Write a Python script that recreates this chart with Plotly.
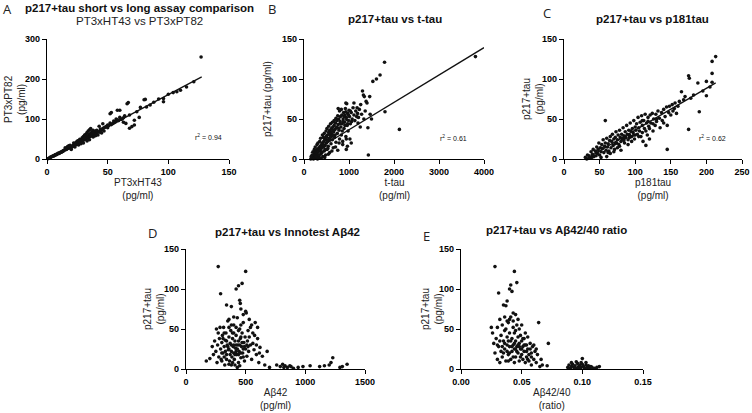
import plotly.graph_objects as go

# ---------------- data ----------------
# Panel A: PT3xHT43 (x) vs PT3xPT82 (y), pg/ml
a_pts = [
    (1,1),(2,3),(3,4),(4,6),(5,7),(6,9),(7,10),(8,12),(9,13),(10,15),
    (11,17),(12,18),(13,20),(14,22),(15,23),(16,25),(17,26),(18,28),(19,30),(20,31),
    (21,33),(22,34),(23,36),(24,37),(25,39),(6,8),(8,11),(10,14),(12,17),(14,21),
    (16,24),(18,27),(20,29),(22,32),(24,36),(26,40),(27,42),(28,44),(29,45),(30,47),
    (31,49),(32,50),(33,52),(34,53),(35,55),(36,57),(37,58),(38,60),(39,61),(40,63),
    (15,28),(18,33),(20,24),(22,40),(25,45),(26,35),(27,49),(28,38),(29,53),(30,56),
    (30,40),(31,60),(32,62),(33,45),(33,66),(34,70),(35,73),(35,48),(36,64),(36,76),
    (37,68),(38,55),(38,72),(39,58),(40,70),(41,66),(42,60),(43,82),(44,72),(45,65),
    (46,88),(46,76),(47,70),(48,80),(50,78),(50,85),(52,90),(52,113),(53,116),(54,88),
    (55,95),(56,92),(57,100),(58,122),(58,98),(60,122),(60,104),(62,100),(63,92),(64,108),
    (65,89),(66,138),(67,141),(68,77),(68,110),(70,81),(72,97),(72,85),(74,118),(76,104),
    (77,129),(80,148),(81,149),(82,130),(85,135),(88,142),(92,150),(96,151),(96,143),(100,162),
    (104,166),(107,168),(110,172),(115,180),(121,193),(127,255),(3,5),(5,8),(7,11),(9,14),
    (11,16),(13,19),(17,27),(19,29),(21,31),(23,35),(25,37),(27,40),(28,47),(30,50),
    (32,55),(34,58),(35,62),(37,63),(39,66),(40,58),(42,68),(44,75),(47,78),(49,82),
    (51,84),(53,86),(55,90),(57,94),(59,96),(61,99),(63,103),(45,72),(43,67),(41,72),
    (24,42),(26,46),(31,52),(33,57),(36,60),(38,65),(19,34),(17,31),(23,30),(29,42),
]
# Panel B: t-tau (x) vs p217+tau (y)
b_pts = [
    (150,0),(170,2),(190,1),(200,4),(210,0),(220,6),(230,3),(240,8),(250,2),(260,5),
    (270,10),(280,1),(290,7),(300,12),(310,4),(320,9),(330,14),(340,2),(350,11),(360,16),
    (370,6),(380,13),(390,18),(400,8),(410,20),(420,3),(430,15),(440,22),(450,10),(460,25),
    (470,17),(480,5),(490,28),(500,20),(510,12),(520,30),(530,23),(540,16),(550,33),(560,26),
    (570,8),(580,35),(590,29),(600,19),(610,38),(620,31),(630,24),(640,40),(650,14),(660,34),
    (670,42),(680,27),(690,37),(700,45),(710,21),(720,39),(730,48),(740,32),(750,11),(760,43),
    (770,50),(780,36),(790,25),(800,47),(810,53),(820,40),(830,30),(840,55),(850,44),(860,18),
    (870,50),(880,58),(890,38),(900,46),(910,55),(920,63),(930,28),(940,52),(950,69),(960,42),
    (970,57),(980,35),(990,48),(1000,61),(1010,53),(1020,25),(1030,44),(1050,58),(1070,50),(1090,64),
    (1110,55),(1130,48),(1150,60),(1170,53),(1190,57),(1210,52),(1230,62),(1260,68),(1280,56),(1300,85),
    (1320,80),(1340,78),(1360,60),(1380,72),(1400,70),(1420,39),(1430,5),(1460,78),(1470,56),(1500,50),
    (1530,97),(1610,100),(1690,105),(1790,121),(1800,59),(2120,37),(3810,128),(180,5),(200,9),(230,12),
    (250,15),(270,3),(290,18),(310,20),(330,5),(350,22),(370,26),(390,9),(410,30),(430,27),
    (450,32),(470,12),(490,35),(510,38),(530,13),(550,41),(570,36),(590,44),(610,28),(630,46),
    (650,36),(670,48),(690,30),(710,51),(730,40),(750,54),(770,38),(790,60),(810,44),(830,62),
    (850,35),(870,47),(890,53),(910,42),(930,59),(950,49),(970,44),(990,55),(1030,60),(1060,47),
    (160,3),(300,0),(380,1),(460,2),(540,6),(620,10),(700,15),(780,20),(860,22),(940,25),
    (400,14),(420,19),(440,17),(480,24),(500,27),(520,22),(560,31),(580,24),(600,33),(640,30),
    (760,63),(930,70),(1110,70),(940,12),(965,16),(1050,20),(1200,45),(1250,40),(1330,50),(1180,64),
]
# Panel C: p181tau (x) vs p217+tau (y)
c_pts = [
    (30,2),(32,0),(33,5),(35,4),(36,1),(38,9),(39,2),(40,6),(41,12),(42,3),
    (44,10),(45,4),(46,15),(47,7),(48,12),(49,20),(50,5),(51,14),(52,9),(53,18),
    (54,13),(55,24),(56,8),(57,16),(58,20),(58,48),(59,11),(60,26),(61,15),(62,19),
    (63,10),(64,23),(65,28),(66,14),(67,22),(68,31),(69,17),(70,25),(71,12),(72,27),
    (73,34),(74,20),(75,24),(76,30),(77,18),(78,36),(79,27),(80,22),(81,31),(82,25),
    (83,39),(84,29),(85,20),(86,34),(87,27),(88,42),(89,31),(90,24),(91,36),(92,30),
    (93,45),(94,35),(95,28),(96,38),(97,33),(98,48),(99,25),(100,40),(101,36),(102,44),
    (103,31),(104,52),(105,39),(106,35),(107,46),(108,28),(109,54),(110,42),(111,22),(112,48),
    (113,38),(114,56),(115,17),(116,45),(117,30),(118,52),(119,41),(120,25),(121,55),(122,45),
    (124,57),(125,35),(126,50),(128,42),(129,56),(130,47),(132,60),(134,51),(135,39),(137,58),
    (138,48),(140,62),(142,53),(144,65),(145,12),(145,42),(147,58),(148,66),(150,55),(152,68),
    (153,60),(155,63),(156,70),(158,57),(160,66),(162,72),(165,84),(168,74),(170,78),(175,37),
    (175,104),(176,101),(178,76),(182,80),(188,95),(190,59),(195,85),(200,79),(200,97),(205,90),
    (208,96),(208,107),(208,122),(213,128),(45,9),(52,2),(60,3),(65,7),(70,9),(75,14),
    (80,11),(85,26),(90,18),(95,22),(100,30),(105,28),(110,33),(115,35),(120,38),(125,44),
    (130,50),(72,19),(78,16),(84,23),(92,27),(98,30),(110,48),(118,47),(140,45),(62,8),
]
# Panel D: Innotest Abeta42 (x) vs p217+tau (y)
d_pts = [
    (170,10),(200,13),(220,28),(230,18),(240,35),(250,22),(255,50),(260,8),(265,30),(270,45),
    (275,15),(280,38),(285,52),(290,25),(295,12),(300,33),(305,42),(310,20),(315,52),(320,28),
    (325,5),(330,36),(335,45),(340,18),(345,30),(350,60),(355,24),(360,40),(365,10),(370,32),
    (375,48),(380,22),(385,15),(390,38),(395,28),(400,55),(405,12),(410,35),(415,26),(420,42),
    (425,18),(430,64),(435,30),(440,8),(445,22),(450,50),(455,38),(460,14),(465,28),(470,45),
    (475,20),(480,58),(485,33),(490,10),(495,40),(500,25),(505,70),(510,16),(515,35),(520,48),
    (525,22),(530,62),(540,30),(550,12),(560,45),(570,24),(580,58),(590,18),(600,38),(610,8),
    (620,27),(640,16),(660,5),(680,22),(700,2),(270,128),(500,122),(470,107),(440,104),(420,100),
    (290,94),(450,86),(455,82),(340,80),(380,78),(460,75),(500,72),(480,68),(400,65),(360,62),
    (760,5),(790,3),(810,6),(830,4),(850,2),(870,4),(900,1),(940,2),(980,3),(1040,4),
    (1120,3),(1160,4),(1200,5),(1230,14),(1215,8),(1290,2),(1310,3),(1350,6),(820,2),(880,3),
    (300,20),(320,45),(340,35),(360,25),(380,30),(400,20),(420,30),(440,35),(460,40),(480,25),
    (310,38),(330,22),(350,28),(370,18),(390,45),(410,18),(430,25),(450,30),(470,33),(490,28),
    (360,52),(380,55),(400,45),(420,52),(440,48),(460,55),(390,8),(410,5),(430,2),(450,4),
    (300,10),(320,15),(340,12),(360,6),(380,5),(400,30),(420,22),(440,18),(460,20),(480,15),
    (530,40),(550,55),(560,32),(575,42),(590,30),(540,52),(520,28),(510,30),(600,52),(615,20),
]
# Panel E: Abeta42/40 ratio (x) vs p217+tau (y)
e_pts = [
    (0.025,52),(0.026,45),(0.027,32),(0.028,128),(0.028,20),(0.029,38),(0.030,12),(0.030,52),(0.031,95),(0.031,28),
    (0.032,62),(0.032,8),(0.033,42),(0.033,22),(0.034,55),(0.034,15),(0.035,80),(0.035,35),(0.036,48),(0.036,25),
    (0.037,79),(0.037,10),(0.038,85),(0.038,40),(0.038,30),(0.039,58),(0.039,18),(0.040,100),(0.040,45),(0.040,28),
    (0.041,105),(0.041,65),(0.041,12),(0.042,97),(0.042,38),(0.042,22),(0.043,52),(0.043,30),(0.043,70),(0.044,122),
    (0.044,25),(0.044,45),(0.045,68),(0.045,15),(0.045,35),(0.046,108),(0.046,55),(0.046,28),(0.047,40),(0.047,20),
    (0.047,62),(0.048,32),(0.048,10),(0.048,50),(0.049,25),(0.049,42),(0.050,18),(0.050,35),(0.050,55),(0.051,28),
    (0.051,12),(0.052,38),(0.052,22),(0.053,45),(0.053,8),(0.054,30),(0.054,15),(0.055,40),(0.055,25),(0.056,10),
    (0.057,32),(0.058,20),(0.058,5),(0.059,28),(0.060,12),(0.061,22),(0.062,8),(0.063,18),(0.064,58),(0.065,3),
    (0.066,12),(0.067,5),(0.072,32),(0.071,4),(0.038,60),(0.040,62),(0.036,65),(0.043,60),(0.045,48),(0.039,35),
    (0.088,2),(0.089,5),(0.090,1),(0.091,3),(0.092,6),(0.093,2),(0.094,4),(0.095,1),(0.096,7),(0.097,3),
    (0.098,5),(0.099,2),(0.100,13),(0.100,6),(0.101,3),(0.102,1),(0.103,5),(0.104,2),(0.105,4),(0.106,1),
    (0.107,3),(0.108,2),(0.110,1),(0.112,2),(0.114,3),(0.091,8),(0.095,9),(0.099,8),(0.103,8),(0.097,1),
    (0.030,30),(0.032,35),(0.034,28),(0.036,32),(0.038,22),(0.040,20),(0.042,28),(0.044,32),(0.046,22),(0.048,28),
    (0.050,25),(0.052,30),(0.054,22),(0.056,18),(0.058,15),(0.035,20),(0.037,50),(0.039,10),(0.041,35),(0.043,15),
    (0.045,25),(0.047,30),(0.049,15),(0.051,38),(0.053,30),(0.055,12),(0.057,25),(0.060,30),(0.062,25),(0.044,8),
]

# linear fits (slope, intercept, x start, x end) and r^2 labels
a_fit = (1.61, 0.0, 0.5, 127.5)
b_fit = (0.0342, 2.4, 150, 4000)
c_fit = (0.522, -16.1, 31, 213)
r2_labels = ["0.94", "0.61", "0.62"]

titles = ["<b>p217+tau short vs long assay comparison</b>",
          "<b>p217+tau vs t-tau</b>", "<b>p217+tau vs p181tau</b>",
          "<b>p217+tau vs Innotest A\u03b242</b>", "<b>p217+tau vs A\u03b242/40 ratio</b>"]
subtitle_a = "PT3xHT43 vs PT3xPT82"
panel_letters = ["A", "B", "C", "D", "E"]
x_titles = ["PT3xHT43<br>(pg/ml)", "t-tau<br>(pg/ml)", "p181tau<br>(pg/ml)",
            "A\u03b242<br>(pg/ml)", "A\u03b242/40<br>(ratio)"]
y_titles = ["PT3xPT82<br>(pg/ml)", "p217+tau (pg/ml)", "p217+tau<br>(pg/ml)",
            "p217+tau<br>(pg/ml)", "p217+tau<br>(pg/ml)"]

# ---------------- figure ----------------
W, H = 752, 413
def px(x, y):
    return x / W, 1 - y / H

fig = go.Figure()
all_pts = [a_pts, b_pts, c_pts, d_pts, e_pts]
fits = [a_fit, b_fit, c_fit, None, None]
for i, pts in enumerate(all_pts):
    sfx = "" if i == 0 else str(i + 1)
    xs = [p[0] for p in pts]
    ys = [p[1] for p in pts]
    fig.add_trace(go.Scatter(x=xs, y=ys, mode="markers", xaxis="x" + sfx, yaxis="y" + sfx,
                             marker=dict(size=3.6, color="#111111"), cliponaxis=False,
                             hoverinfo="skip"))
    f = fits[i]
    if f is not None:
        s, b, x0, x1 = f
        fig.add_trace(go.Scatter(x=[x0, x1], y=[s * x0 + b, s * x1 + b], mode="lines",
                                 xaxis="x" + sfx, yaxis="y" + sfx,
                                 line=dict(color="#111111", width=1.3), cliponaxis=False,
                                 hoverinfo="skip"))

# plot areas in pixels: (left, right, top, bottom)
boxes = [(47, 229, 39, 159), (304, 484, 39, 159), (564, 742, 39, 159),
         (186, 365, 249, 369), (461, 643, 249, 369)]
x_ranges = [[0, 150], [0, 4000], [0, 250], [0, 1500], [0, 0.15]]
x_dticks = [50, 1000, 50, 500, 0.05]
y_ranges = [[0, 300], [0, 150], [0, 150], [0, 150], [0, 150]]
y_dticks = [100, 50, 50, 50, 50]

tickfont = dict(family="Liberation Sans", size=9, color="black", weight="bold")
axcommon = dict(showline=True, linecolor="black", linewidth=1.3, ticks="outside",
                ticklen=4, tickwidth=1.3, tickcolor="black", showgrid=False,
                zeroline=False, tickfont=tickfont, fixedrange=True, automargin=False,
                ticklabeloverflow="allow")
layout = {}
for i, (l, r, t, b) in enumerate(boxes):
    sfx = "" if i == 0 else str(i + 1)
    xd = [l / W, r / W]
    yd = [1 - b / H, 1 - t / H]
    xa = dict(axcommon, domain=xd, range=x_ranges[i], dtick=x_dticks[i], tick0=0,
              anchor="y" + sfx)
    if i == 4:
        xa["tickformat"] = ".2f"
    ya = dict(axcommon, domain=yd, range=y_ranges[i], dtick=y_dticks[i], tick0=0,
              anchor="x" + sfx)
    layout["xaxis" + sfx] = xa
    layout["yaxis" + sfx] = ya

ann = []
def add_text(x, y, text, size=10, angle=0, color="#222222", family="Liberation Sans"):
    ax, ay = px(x, y)
    ann.append(dict(x=ax, y=ay, xref="paper", yref="paper", text=text, showarrow=False,
                    xanchor="center", yanchor="middle", textangle=angle,
                    font=dict(size=size, color=color, family=family)))

# titles
title_pos = [(139, 8), (395, 19), (652, 19), (287, 232), (556, 230)]
for (x, y), t in zip(title_pos, titles):
    add_text(x, y, t, size=11.5, color="#111111")
add_text(139, 21, subtitle_a, size=11.5, color="#222222")

# panel letters
letter_pos = [(7, 9), (272, 9), (547, 13), (152, 233), (426, 236)]
for (x, y), t in zip(letter_pos, panel_letters):
    add_text(x, y, t, size=13, color="#222222", family="Open Sans")

# axis titles
xt_pos = [(138, 189), (394, 189), (653, 189), (275, 399), (552, 399)]
for (x, y), t in zip(xt_pos, x_titles):
    add_text(x, y, t, size=10)
yt_pos = [(15, 99), (267, 99), (533, 99), (154, 309), (432, 309)]
for (x, y), t in zip(yt_pos, y_titles):
    add_text(x, y, t, size=10, angle=-90)

# r^2 labels
r2_pos = [(208, 137), (453, 138), (712, 138)]
for (x, y), v in zip(r2_pos, r2_labels):
    add_text(x, y, "r<sup>2</sup> = " + v, size=7, color="#111111")

fig.update_layout(width=W, height=H,
                  margin=dict(l=0, r=0, t=0, b=0, pad=0, autoexpand=False),
                  paper_bgcolor="white", plot_bgcolor="white", showlegend=False,
                  annotations=ann, **layout)
fig.write_html("out.html", config={"displayModeBar": False},
               post_script="document.body.style.margin='0';document.body.style.overflow='hidden';")
